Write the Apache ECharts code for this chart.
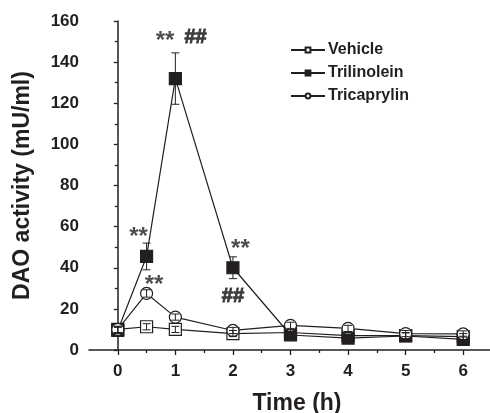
<!DOCTYPE html>
<html>
<head>
<meta charset="utf-8">
<script src="https://cdn.jsdelivr.net/npm/echarts@6/dist/echarts.min.js"></script>
<style>
  html, body { margin: 0; padding: 0; background: #fff; }
  #chart { width: 490px; height: 413px; }
</style>
</head>
<body>
<div id="chart"></div>
<script>
// time points (h)
const times = [0, 0.5, 1, 2, 3, 4, 5, 6]
// DAO activity (mU/ml)
const vehicle = [10, 11.3, 10, 8, 8.5, 7, 7, 6.5]
const trilinolein = [9.5, 45.5, 132, 40, 7.3, 5.8, 6.8, 5.2]
const tricaprylin = [10, 27.5, 16, 9.5, 12, 10.5, 8, 7.8]
// error (SEM)
const vehicleErr = [1.5, 1.5, 1.5, 1.5, 1.5, 1.5, 1.5, 1.5]
const trilinoleinErr = [1.5, 6.5, 12.5, 5.3, 1.5, 1.5, 1.5, 1.5]
const tricaprylinErr = [1.5, 1.8, 1.5, 1.5, 1.5, 1.5, 1.5, 1.5]
// axis ticks
const xMajorTicks = [0, 1, 2, 3, 4, 5, 6]
const xMinorTicks = [0.5, 1.5, 2.5, 3.5, 4.5, 5.5]
// significance marks [time, value, text]
const marks = [
  [0.82, 150, '**', 'star'],
  [1.35, 152, '##', 'hash'],
  [0.36, 55, '**', 'star'],
  [0.63, 31.5, '**', 'star'],
  [2.13, 49, '**', 'star'],
  [2.0, 26, '##', 'hash']
]

const FONT = '"Liberation Sans", Arial, sans-serif'
const INK = '#231f20'

const chart = echarts.init(document.getElementById('chart'))

const pairs = (ys) => times.map((t, i) => [t, ys[i]])
const errPairs = (ys, es) => times.map((t, i) => [t, ys[i], es[i]])

// 误差棒
const errorSeries = (name, ys, es) => ({
  name: name + ' err',
  type: 'custom',
  z: 10,
  silent: true,
  data: errPairs(ys, es),
  renderItem: (params, api) => {
    const x = api.value(0)
    const y = api.value(1)
    const e = api.value(2)
    const top = api.coord([x, y + e])
    const bot = api.coord([x, y - e])
    const hw = 4
    const style = { stroke: INK, lineWidth: 1 }
    return {
      type: 'group',
      children: [
        { type: 'line', shape: { x1: top[0], y1: top[1], x2: bot[0], y2: bot[1] }, style },
        { type: 'line', shape: { x1: top[0] - hw, y1: top[1], x2: top[0] + hw, y2: top[1] }, style },
        { type: 'line', shape: { x1: bot[0] - hw, y1: bot[1], x2: bot[0] + hw, y2: bot[1] }, style }
      ]
    }
  }
})

const lineSeries = (name, ys, symbol, fill, z) => ({
  name: name,
  type: 'line',
  data: pairs(ys),
  symbol: symbol,
  symbolSize: 12,
  showAllSymbol: true,
  z: z,
  lineStyle: { color: INK, width: 1.2 },
  itemStyle: { color: fill, borderColor: INK, borderWidth: 1.2, opacity: 1 },
  emphasis: { disabled: true }
})

const option = {
  animation: false,
  backgroundColor: '#fff',
  textStyle: { fontFamily: FONT },
  grid: { left: 89, right: -2, top: 21, bottom: 63, containLabel: false, outerBoundsMode: 'none' },
  legend: {
    orient: 'vertical',
    left: 285,
    top: 37,
    itemWidth: 34,
    itemHeight: 6,
    itemGap: 7,
    data: ['Vehicle', 'Trilinolein', 'Tricaprylin'],
    textStyle: { fontFamily: FONT, fontWeight: 'bold', fontSize: 16, color: INK, padding: [0, 0, 0, -2] }
  },
  xAxis: [
    {
      type: 'value',
      min: -0.5,
      max: 6.5,
      name: 'Time (h)',
      nameLocation: 'middle',
      nameGap: 42,
      nameTextStyle: { fontFamily: FONT, fontWeight: 'bold', fontSize: 23, color: INK, padding: [0, 0, 0, 13] },
      axisLine: { lineStyle: { color: INK, width: 1.5 } },
      axisTick: { customValues: xMajorTicks, length: 5, lineStyle: { color: INK, width: 1.3 } },
      axisLabel: { customValues: xMajorTicks, fontFamily: FONT, fontWeight: 'bold', fontSize: 17, color: INK, margin: 13 },
      splitLine: { show: false }
    },
    {
      type: 'value',
      min: -0.5,
      max: 6.5,
      position: 'bottom',
      axisLine: { show: false },
      axisTick: { customValues: xMinorTicks, length: 3, lineStyle: { color: INK, width: 1.3 } },
      axisLabel: { show: false },
      splitLine: { show: false }
    }
  ],
  yAxis: {
    type: 'value',
    min: 0,
    max: 160,
    interval: 20,
    name: 'DAO activity (mU/ml)',
    nameLocation: 'middle',
    nameGap: 55,
    nameTextStyle: { fontFamily: FONT, fontWeight: 'bold', fontSize: 23, color: INK },
    axisLine: { show: true, lineStyle: { color: INK, width: 1.5 } },
    axisTick: { show: true, length: 4, lineStyle: { color: INK, width: 1.3 } },
    minorTick: { show: true, splitNumber: 2, length: 3, lineStyle: { color: INK, width: 1.3 } },
    axisLabel: { fontFamily: FONT, fontWeight: 'bold', fontSize: 17, color: INK, margin: 10 },
    splitLine: { show: false }
  },
  series: [
    lineSeries('Vehicle', vehicle, 'rect', '#fff', 3),
    lineSeries('Trilinolein', trilinolein, 'rect', INK, 4),
    lineSeries('Tricaprylin', tricaprylin, 'circle', '#fff', 5),
    errorSeries('Vehicle', vehicle, vehicleErr),
    errorSeries('Trilinolein', trilinolein, trilinoleinErr),
    errorSeries('Tricaprylin', tricaprylin, tricaprylinErr),
    {
      name: 'marks',
      type: 'scatter',
      symbolSize: 0,
      silent: true,
      z: 20,
      data: marks.map(m => ({
        value: [m[0], m[1]],
        label: {
          show: true,
          position: 'inside',
          formatter: m[2],
          fontFamily: FONT,
          fontWeight: 'bold',
          fontSize: m[3] === 'star' ? 24 : 20,
          color: INK,
          textBorderColor: INK,
          textBorderWidth: m[3] === 'star' ? 0 : 1
        }
      }))
    }
  ]
}

chart.setOption(option)
</script>
</body>
</html>
